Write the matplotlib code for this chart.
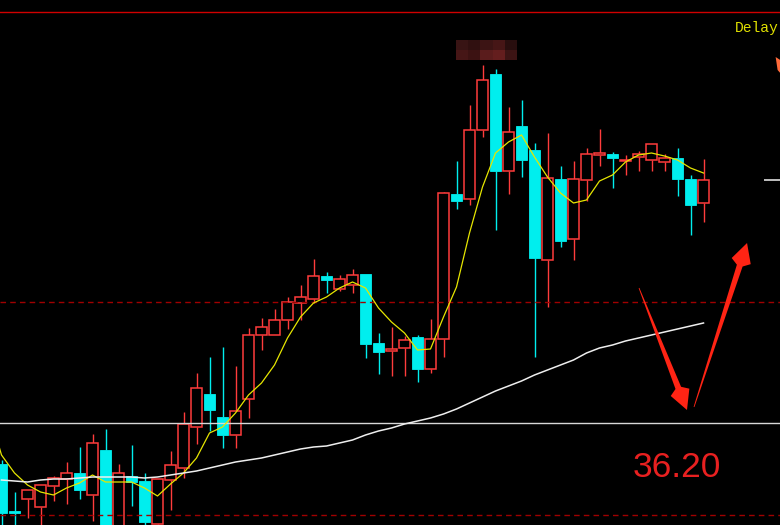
import numpy as np
import matplotlib
matplotlib.use("Agg")
import matplotlib.pyplot as plt
from matplotlib.patches import Rectangle, Polygon
from matplotlib.transforms import IdentityTransform

# candle data (price)
opens = [35.79, 35.32, 35.44, 35.36, 35.57, 35.64, 35.70, 35.48, 35.93, 35.15,
         35.67, 35.62, 35.19, 35.63, 35.75, 36.16, 36.49, 36.26, 36.08, 36.44,
         37.08, 37.08, 37.23, 37.40, 37.44, 37.67, 37.54, 37.58, 37.69, 37.00,
         36.92, 36.95, 37.06, 36.74, 37.04, 38.49, 38.44, 39.13, 39.69, 38.72,
         39.17, 38.93, 37.83, 38.64, 38.04, 38.63, 38.88, 38.89, 38.82, 38.86,
         38.83, 38.81, 38.85, 38.64, 38.40]
highs = [35.83, 35.51, 35.53, 35.58, 35.67, 35.81, 35.96, 36.09, 36.14, 35.79,
         35.98, 35.70, 35.64, 35.92, 36.31, 36.70, 36.86, 36.96, 36.77, 37.15,
         37.25, 37.34, 37.46, 37.58, 37.84, 37.71, 37.68, 37.74, 37.69, 37.10,
         37.16, 37.07, 37.08, 37.24, 38.51, 38.82, 39.38, 39.78, 39.74, 39.36,
         39.43, 39.00, 39.10, 38.77, 38.82, 38.95, 39.14, 38.91, 38.88, 38.92,
         38.99, 38.89, 38.95, 38.68, 38.84]
lows = [35.13, 35.13, 35.25, 35.13, 35.42, 35.39, 35.44, 35.22, 35.08, 35.08,
        35.37, 35.13, 35.15, 35.33, 35.65, 35.99, 36.12, 35.95, 35.95, 36.25,
        36.93, 37.08, 37.14, 37.23, 37.40, 37.50, 37.52, 37.50, 36.85, 36.69,
        36.67, 36.67, 36.61, 36.70, 36.86, 38.34, 38.38, 39.06, 38.13, 38.49,
        38.66, 36.86, 37.36, 37.96, 37.83, 38.42, 38.77, 38.55, 38.68, 38.72,
        38.72, 38.72, 38.47, 38.08, 38.21]
closes = [35.30, 35.30, 35.53, 35.58, 35.65, 35.70, 35.53, 36.00, 35.15, 35.70,
          35.61, 35.21, 35.64, 35.78, 36.19, 36.55, 36.33, 36.08, 36.32, 37.08,
          37.16, 37.23, 37.41, 37.46, 37.67, 37.63, 37.64, 37.68, 36.99, 36.91,
          36.94, 37.03, 36.74, 37.04, 38.50, 38.42, 39.13, 39.63, 38.72, 39.11,
          38.83, 37.85, 38.65, 38.02, 38.64, 38.89, 38.90, 38.85, 38.83, 38.89,
          38.99, 38.85, 38.64, 38.38, 38.63]

# moving average lines, read at each candle
ma_fast = [35.88, 35.70, 35.58, 35.51, 35.48, 35.55, 35.60, 35.68, 35.61, 35.61,
           35.61, 35.55, 35.47, 35.59, 35.70, 35.85, 36.10, 36.16, 36.30, 36.48,
           36.60, 36.78, 37.05, 37.26, 37.40, 37.46, 37.55, 37.61, 37.55, 37.35,
           37.21, 37.10, 36.93, 36.94, 37.26, 37.56, 38.10, 38.56, 38.90, 39.01,
           39.08, 38.86, 38.66, 38.50, 38.40, 38.43, 38.62, 38.68, 38.81, 38.88,
           38.90, 38.87, 38.83, 38.75, 38.70]
ma_slow = [35.63, 35.62, 35.61, 35.63, 35.64, 35.64, 35.65, 35.66, 35.66, 35.66,
           35.66, 35.65, 35.66, 35.68, 35.70, 35.72, 35.75, 35.78, 35.81, 35.83,
           35.85, 35.88, 35.91, 35.94, 35.96, 35.97, 36.00, 36.03, 36.08, 36.12,
           36.15, 36.19, 36.22, 36.25, 36.29, 36.34, 36.40, 36.46, 36.52, 36.57,
           36.62, 36.68, 36.73, 36.78, 36.83, 36.90, 36.95, 36.98, 37.02, 37.05,
           37.08, 37.11, 37.14, 37.17, 37.20]

LEVEL_TOP = 40.31
LEVEL_DASH_HI = 37.41
LEVEL_WHITE = 36.20
LEVEL_DASH_LO = 35.28
LEVEL_RIGHT = 38.63
LABEL = "36.20"
CORNER_TEXT = "Delay"

BG = "black"
UP = "#ff3c3c"
DOWN = "#00eeee"

fig = plt.figure(figsize=(7.8, 5.25), dpi=100, facecolor=BG)
ax = fig.add_axes([0, 0, 1, 1])
ax.set_facecolor(BG)
ax.set_axis_off()
ax.set_xlim(-1.5 / 13, 778.5 / 13)
ax.set_ylim(35.18, 40.43)

w = 11 / 13
for i in range(len(opens)):
    o, h, l, c = opens[i], highs[i], lows[i], closes[i]
    col = UP if c >= o else DOWN
    bot, top = min(o, c), max(o, c)
    ax.vlines(i, l, bot, color=col, lw=1.0, zorder=2)
    ax.vlines(i, top, h, color=col, lw=1.0, zorder=2)
    if c >= o:
        ax.add_patch(Rectangle((i - w / 2, bot), w, max(top - bot, 0.01),
                               facecolor=BG, edgecolor=col, lw=1.1, zorder=3))
    else:
        ax.add_patch(Rectangle((i - w / 2, bot), w, max(top - bot, 0.02),
                               facecolor=col, edgecolor=col, lw=0.6, zorder=3))

# levels
ax.axhline(LEVEL_TOP, color="#d00000", lw=1.0, zorder=4)
ax.axhline(LEVEL_DASH_HI, color="#a00000", lw=1.0, ls=(0, (4, 3)), zorder=4)
ax.axhline(LEVEL_DASH_LO, color="#a00000", lw=1.0, ls=(0, (4, 3)), zorder=4)
ax.axhline(LEVEL_WHITE, color="#d8d8d8", lw=1.0, zorder=5)
ax.hlines(LEVEL_RIGHT, 58.65, 60, color="#e0e0e0", lw=1.2, zorder=5)

# averages
xs = np.arange(len(ma_fast))
ax.plot(np.r_[-0.2, xs], np.r_[35.97, ma_fast], color="#e6e600", lw=0.9, zorder=6)
ax.plot(xs, ma_slow, color="#eeeeee", lw=1.1, zorder=6)

# pixelated blur patch near the top
blur = np.array([[[56, 20, 20], [48, 16, 16], [60, 20, 20], [70, 22, 22], [40, 14, 14]],
                 [[70, 22, 22], [60, 18, 18], [90, 28, 28], [100, 30, 30], [60, 20, 20]]]) / 255
ax.imshow(blur, extent=(34.96, 39.58, 39.83, 40.02), aspect="auto",
          interpolation="nearest", zorder=7)
ax.set_xlim(-1.5 / 13, 778.5 / 13)
ax.set_ylim(35.18, 40.43)


def tapered_arrow(tail, tip, color, head_len=19, head_half=10, shaft_half=3):
    t = ax.transData.transform(tail)
    p = ax.transData.transform(tip)
    d = p - t
    u = d / np.hypot(*d)
    n = np.array([-u[1], u[0]])
    base = p - u * head_len
    join = p - u * head_len * 1.25
    pts = [t + n * 0.4, join + n * shaft_half, base + n * head_half, p,
           base - n * head_half, join - n * shaft_half, t - n * 0.4]
    ax.add_patch(Polygon(pts, closed=True, transform=IdentityTransform(),
                         facecolor=color, edgecolor="none", zorder=8))


tapered_arrow((49.04, 37.55), (52.73, 36.33), "#ff2414")
tapered_arrow((53.27, 36.36), (57.35, 38.00), "#ff2414")

ax.add_patch(Polygon([(59.55, 39.86), (59.9, 39.83), (59.9, 39.70), (59.7, 39.73)],
                     closed=True, facecolor="#ff6a3a", edgecolor="none", zorder=8))

ax.text(48.55, 35.66, LABEL, color="#e82020", fontsize=25.5,
        family="Liberation Sans", va="baseline", ha="left", zorder=9)
ax.text(56.42, 40.11, CORNER_TEXT, color="#e0e000", fontsize=10.5,
        family="Liberation Mono", va="baseline", ha="left", zorder=9)

fig.savefig("out.png", dpi=100, facecolor=BG)
